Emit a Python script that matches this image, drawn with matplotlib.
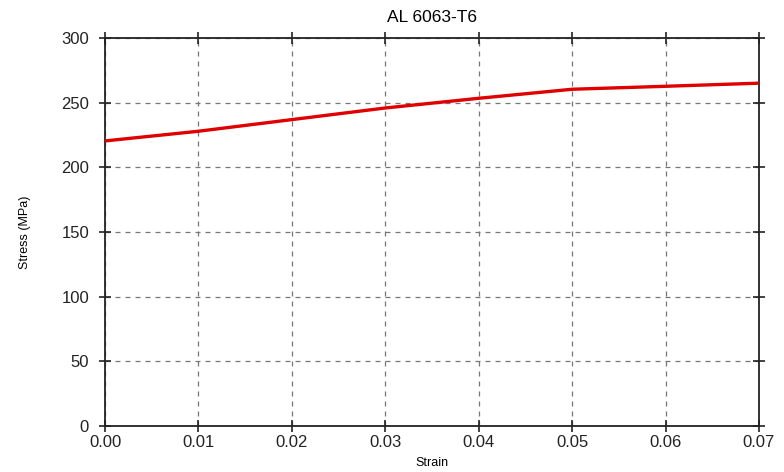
import matplotlib
matplotlib.use("Agg")
import matplotlib.pyplot as plt

strain = [0.00, 0.01, 0.02, 0.03, 0.04, 0.05, 0.06, 0.07]
stress = [220.5, 228, 237, 246, 253.5, 260.5, 262.8, 265.2]
xticks = [0.00, 0.01, 0.02, 0.03, 0.04, 0.05, 0.06, 0.07]
yticks = [0, 50, 100, 150, 200, 250, 300]

plt.rcParams['font.family'] = ['Liberation Sans', 'DejaVu Sans']

fig = plt.figure(figsize=(7.84, 4.72), dpi=100)
ax = fig.add_axes([0.134, 0.098, 0.834, 0.821])
ax.plot(strain, stress, color='#e00000', lw=2.4, zorder=3)
ax.set_xlim(0, 0.07)
ax.set_ylim(0, 300)
ax.set_xticks(xticks)
ax.set_xticklabels([f"{v:.2f}" for v in xticks])
ax.set_yticks(yticks)
ax.tick_params(direction='inout', length=9, width=1.2, labelsize=12,
               top=True, right=True, colors='#222222')
ax.tick_params(axis='x', pad=2)
ax.tick_params(axis='y', pad=7)
for s in ax.spines.values():
    s.set_linewidth(1.3)
    s.set_color('#222222')
ax.grid(True, linestyle=(0, (4, 4)), color='#777777', lw=0.9)
ax.set_title("AL 6063-T6", fontsize=12.5, pad=12)
ax.set_xlabel("Strain", fontsize=9, labelpad=5)
ax.set_ylabel("Stress (MPa)", fontsize=9, labelpad=22)
fig.savefig("out.png", dpi=100, facecolor='white')
